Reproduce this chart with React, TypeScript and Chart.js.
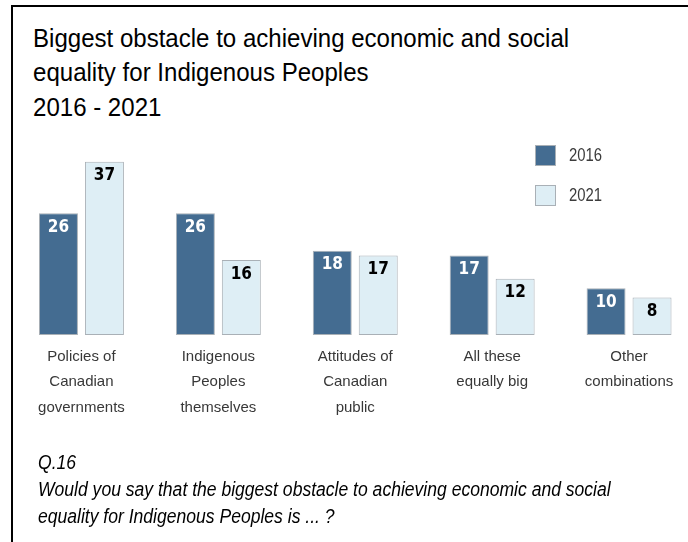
import React, { useEffect, useRef } from "react";
import { Chart, registerables } from "chart.js";

Chart.register(...registerables);

const categories: string[][] = [
  ["Policies of", "Canadian", "governments"],
  ["Indigenous", "Peoples", "themselves"],
  ["Attitudes of", "Canadian", "public"],
  ["All these", "equally big"],
  ["Other", "combinations"],
];
const series2016: number[] = [26, 26, 18, 17, 10];
const series2021: number[] = [37, 16, 17, 12, 8];
const seriesNames: string[] = ["2016", "2021"];
const titleLines: string[] = [
  "Biggest obstacle to achieving economic and social",
  "equality for Indigenous Peoples",
  "2016 - 2021",
];
const footerLines: string[] = [
  "Q.16",
  "Would you say that the biggest obstacle to achieving economic and social",
  "equality for Indigenous Peoples is ... ?",
];

const DARK = "#446c91";
const LIGHT = "#deeef5";
const EDGE = "#a9b0b6";

const valueLabels = {
  id: "valueLabels",
  afterDatasetsDraw(chart: any) {
    const ctx = chart.ctx;
    ctx.save();
    ctx.font = "bold 17px 'DejaVu Sans Condensed', 'DejaVu Sans', sans-serif";
    ctx.textAlign = "center";
    ctx.textBaseline = "alphabetic";
    chart.data.datasets.forEach((ds: any, di: number) => {
      const meta = chart.getDatasetMeta(di);
      meta.data.forEach((bar: any, i: number) => {
        ctx.fillStyle = di === 0 ? "#ffffff" : "#000000";
        ctx.fillText(String(ds.data[i]), bar.x, bar.y + 18.5);
      });
    });
    ctx.restore();
  },
};

export default function App() {
  const canvasRef = useRef<HTMLCanvasElement | null>(null);

  useEffect(() => {
    if (!canvasRef.current) return;
    const chart = new Chart(canvasRef.current, {
      type: "bar",
      data: {
        labels: categories,
        datasets: [
          {
            label: seriesNames[0],
            data: series2016,
            backgroundColor: DARK,
            borderColor: EDGE,
            borderWidth: 1,
            borderSkipped: false,
            categoryPercentage: 0.6715,
            barPercentage: 0.848,
          },
          {
            label: seriesNames[1],
            data: series2021,
            backgroundColor: LIGHT,
            borderColor: EDGE,
            borderWidth: 1,
            borderSkipped: false,
            categoryPercentage: 0.6715,
            barPercentage: 0.848,
          },
        ],
      },
      options: {
        animation: false,
        responsive: false,
        maintainAspectRatio: false,
        layout: { padding: { top: 147.7, left: 13, right: 2.5, bottom: 117 } },
        plugins: {
          legend: { display: false },
          tooltip: { enabled: false },
          title: { display: false },
        },
        scales: {
          x: {
            grid: { display: false },
            border: { display: false },
            ticks: {
              padding: 1,
              color: "#383838",
              maxRotation: 0,
              autoSkip: false,
              font: {
                family: "'Liberation Sans', Arial, sans-serif",
                size: 15,
                lineHeight: "25.5px",
              },
            },
            afterFit: (scale: any) => {
              scale.height = 90;
            },
          },
          y: {
            display: false,
            min: 0,
            max: 40,
          },
        },
      },
      plugins: [valueLabels],
    });
    return () => chart.destroy();
  }, []);

  const legendItem = (name: string, color: string, top: number) => (
    <div
      key={name}
      style={{ position: "absolute", left: 535, top, height: 21, display: "flex", alignItems: "center" }}
    >
      <div
        style={{
          width: 19,
          height: 19,
          background: color,
          border: `1px solid ${EDGE}`,
        }}
      />
      <span
        style={{
          marginLeft: 13,
          fontFamily: "'Liberation Sans', Arial, sans-serif",
          fontSize: 17.5,
          color: "#3c3c3c",
          lineHeight: "21px",
          display: "inline-block",
          transform: "scaleX(0.85)",
          transformOrigin: "left center",
        }}
      >
        {name}
      </span>
    </div>
  );

  return (
    <div
      style={{
        position: "fixed",
        left: 0,
        top: 0,
        width: 688,
        height: 542,
        overflow: "hidden",
        background: "#ffffff",
      }}
    >
      <div
        style={{
          position: "absolute",
          left: 11,
          top: 5,
          width: 700,
          height: 600,
          borderLeft: "2px solid #000",
          borderTop: "2px solid #000",
        }}
      />
      <div
        style={{
          position: "absolute",
          left: 33,
          top: 20.7,
          fontFamily: "'Liberation Sans', Arial, sans-serif",
          fontSize: 26,
          lineHeight: "34.5px",
          color: "#000",
          whiteSpace: "nowrap",
          transform: "scaleX(0.925)",
          transformOrigin: "left top",
        }}
      >
        {titleLines.map((t) => (
          <div key={t}>{t}</div>
        ))}
      </div>
      <canvas
        ref={canvasRef}
        width={700}
        height={542}
        style={{ position: "absolute", left: 0, top: 0, width: 700, height: 542 }}
      />
      {legendItem(seriesNames[0], DARK, 145)}
      {legendItem(seriesNames[1], LIGHT, 185)}
      <div
        style={{
          position: "absolute",
          left: 38,
          top: 448.7,
          fontFamily: "'Liberation Sans', Arial, sans-serif",
          fontStyle: "italic",
          fontSize: 19.5,
          lineHeight: "27px",
          color: "#000",
          whiteSpace: "nowrap",
          transform: "scaleX(0.9)",
          transformOrigin: "left top",
        }}
      >
        {footerLines.map((t) => (
          <div key={t}>{t}</div>
        ))}
      </div>
    </div>
  );
}
